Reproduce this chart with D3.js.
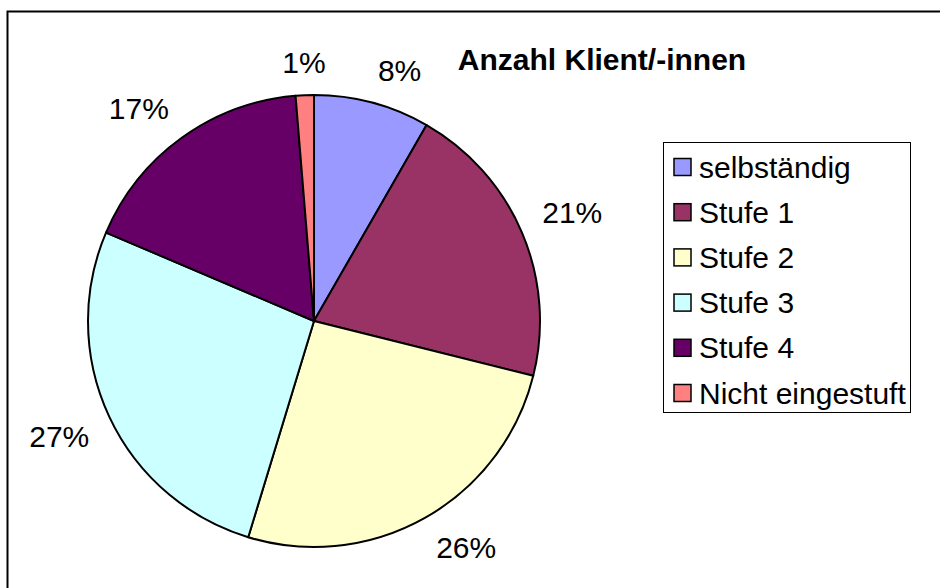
<!DOCTYPE html>
<html>
<head>
<meta charset="utf-8">
<script src="https://cdn.jsdelivr.net/npm/d3@7"></script>
<style>
  body { margin: 0; background: #fff; }
  text { font-family: "Liberation Sans", Arial, sans-serif; }
</style>
</head>
<body>
<svg id="chart" width="940" height="588"></svg>
<script>
const categories = ["selbständig", "Stufe 1", "Stufe 2", "Stufe 3", "Stufe 4", "Nicht eingestuft"];
const values = [8.3, 20.6, 25.8, 26.7, 17.3, 1.3];
const colors = ["#9999FF", "#993366", "#FFFFCC", "#CCFFFF", "#660066", "#FF8080"];
const title = "Anzahl Klient/-innen";

const svg = d3.select("#chart");
const cx = 314, cy = 321, radius = 226;

// Rahmen (rechts und unten außerhalb des Bildes)
svg.append("rect")
    .attr("x", 7.5).attr("y", 11.5)
    .attr("width", 1000).attr("height", 1000)
    .attr("fill", "#fff")
    .attr("stroke", "#000")
    .attr("stroke-width", 2);

const total = d3.sum(values);
const pie = d3.pie().sort(null).value(d => d)(values);
const arc = d3.arc().innerRadius(0).outerRadius(radius);

const g = svg.append("g").attr("transform", `translate(${cx},${cy})`);

g.selectAll("path")
    .data(pie)
    .enter()
    .append("path")
    .attr("d", arc)
    .attr("fill", (d, i) => colors[i])
    .attr("stroke", "#000")
    .attr("stroke-width", 2)
    .attr("stroke-linejoin", "round");

// Prozent-Beschriftung außerhalb: Ecke der Textbox liegt am Kreis r+gap
const gap = 22;
const side = v => Math.sign(v) * Math.max(0, Math.min(1, (Math.abs(v) - 0.1) / 0.15));
g.selectAll(".lbl")
    .data(pie)
    .enter()
    .append("text")
    .attr("class", "lbl")
    .attr("font-size", 30)
    .attr("text-anchor", "middle")
    .attr("dominant-baseline", "central")
    .text(d => Math.round(d.value / total * 100) + "%")
    .each(function (d) {
        const a = (d.startAngle + d.endAngle) / 2;
        const bb = this.getBBox();
        const s = Math.sin(a), c = -Math.cos(a);
        const x = (radius + gap) * s + bb.width / 2 * side(s);
        const y = (radius + gap) * c + 11 * side(c);
        d3.select(this).attr("x", x).attr("y", y);
    });

// Titel
svg.append("text")
    .attr("x", 602).attr("y", 70)
    .attr("text-anchor", "middle")
    .attr("font-size", 30)
    .attr("font-weight", "bold")
    .text(title);

// Legende
const legend = svg.append("g");
legend.append("rect")
    .attr("x", 663.5).attr("y", 142.5)
    .attr("width", 247).attr("height", 270)
    .attr("fill", "#fff")
    .attr("stroke", "#000")
    .attr("stroke-width", 1);

const rowY = d3.scaleLinear().domain([0, categories.length - 1]).range([167, 393]);
const item = legend.selectAll(".legend-item")
    .data(categories)
    .enter()
    .append("g")
    .attr("class", "legend-item")
    .attr("transform", (d, i) => `translate(0, ${rowY(i)})`);

item.append("rect")
    .attr("x", 674).attr("y", -8.5)
    .attr("width", 17).attr("height", 17)
    .attr("fill", (d, i) => colors[i])
    .attr("stroke", "#000")
    .attr("stroke-width", 1.5);

item.append("text")
    .attr("x", 699).attr("y", 10.5)
    .attr("font-size", 30)
    .text(d => d);
</script>
</body>
</html>
